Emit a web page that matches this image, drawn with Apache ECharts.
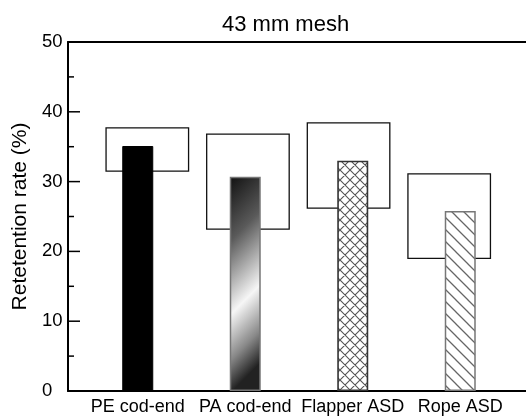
<!DOCTYPE html>
<html>
<head>
<meta charset="utf-8">
<script src="https://cdn.jsdelivr.net/npm/echarts@6/dist/echarts.min.js"></script>
<style>
html,body{margin:0;padding:0;background:#fff;}
#chart{width:526px;height:419px;}
</style>
</head>
<body>
<div id="chart"></div>
<script>
const categories = ['PE cod-end', 'PA cod-end', 'Flapper ASD', 'Rope ASD'];
const retention = [35.1, 30.7, 33.0, 25.8];
const rangeLow = [31.5, 23.2, 26.2, 19.0];
const rangeHigh = [37.7, 36.8, 38.4, 31.1];
const yMin = 0, yMax = 50, yStep = 10;
const yTickValues = [0, 5, 10, 15, 20, 25, 30, 35, 40, 45, 50];

const FONT = '"Liberation Sans", Arial, sans-serif';

function makePattern(kind) {
  const s = kind === 'cross' ? 10 : 12;
  const c = document.createElement('canvas');
  c.width = s; c.height = s;
  const g = c.getContext('2d');
  g.fillStyle = '#fff';
  g.fillRect(0, 0, s, s);
  g.strokeStyle = kind === 'cross' ? '#555' : '#666';
  g.lineWidth = kind === 'cross' ? 1.1 : 1.3;
  g.beginPath();
  g.moveTo(-1, -1); g.lineTo(s + 1, s + 1);
  g.moveTo(-1, s - 1); g.lineTo(1, s + 1);
  g.moveTo(s - 1, -1); g.lineTo(s + 1, 1);
  if (kind === 'cross') {
    g.moveTo(s + 1, -1); g.lineTo(-1, s + 1);
    g.moveTo(1, -1); g.lineTo(-1, 1);
    g.moveTo(s + 1, s - 1); g.lineTo(s - 1, s + 1);
  }
  g.stroke();
  return { image: c, repeat: 'repeat' };
}

const barStyles = [
  { color: '#000', borderColor: '#000', borderWidth: 1 },
  {
    color: {
      type: 'linear', x: 0, y: 0, x2: 3.5, y2: 0.5,
      colorStops: [
        { offset: 0, color: '#111' },
        { offset: 0.3, color: '#5a5a5a' },
        { offset: 0.64, color: '#f6f6f6' },
        { offset: 0.85, color: '#888' },
        { offset: 1, color: '#222' }
      ]
    },
    borderColor: '#777', borderWidth: 1.5
  },
  { color: makePattern('cross'), borderColor: '#333', borderWidth: 1.6 },
  { color: makePattern('diag'), borderColor: '#777', borderWidth: 1.5 }
];

const barData = retention.map((v, i) => ({ value: v, itemStyle: barStyles[i] }));
const boxData = categories.map((c, i) => [i, rangeLow[i], rangeHigh[i]]);
const tickData = yTickValues.map(v => [0, v]);

const chart = echarts.init(document.getElementById('chart'), null, { renderer: 'canvas' });

const option = {
  animation: false,
  backgroundColor: '#fff',
  title: {
    text: '43 mm mesh',
    left: 217,
    top: 9,
    textStyle: { fontFamily: FONT, fontSize: 22, fontWeight: 'normal', color: '#000' }
  },
  grid: [
    { left: 68, right: 0, top: 42, bottom: 28 },     // frame / y axis
    { left: 84, right: 12, top: 42, bottom: 28 },    // bars
    { left: 97, right: 26.5, top: 42, bottom: 28 }   // range boxes
  ],
  xAxis: [
    {
      gridIndex: 0, type: 'value', min: 0, max: 1, position: 'bottom',
      axisLine: { show: true, onZero: false, lineStyle: { color: '#000', width: 2 } },
      axisTick: { show: false }, axisLabel: { show: false }, splitLine: { show: false }
    },
    {
      gridIndex: 0, type: 'value', min: 0, max: 1, position: 'top',
      axisLine: { show: true, onZero: false, lineStyle: { color: '#000', width: 2 } },
      axisTick: { show: false }, axisLabel: { show: false }, splitLine: { show: false }
    },
    {
      gridIndex: 1, type: 'category', data: categories,
      axisLine: { show: false }, axisTick: { show: false },
      axisLabel: { interval: 0, color: '#000', fontFamily: FONT, fontSize: 18, margin: 7 }
    },
    {
      gridIndex: 2, type: 'category', data: categories, show: false
    }
  ],
  yAxis: [
    {
      gridIndex: 0, type: 'value', min: yMin, max: yMax, interval: yStep, position: 'left',
      name: 'Retetention rate (%)', nameLocation: 'middle', nameGap: 28,
      nameTextStyle: { color: '#000', fontFamily: FONT, fontSize: 21 },
      axisLine: { show: true, onZero: false, lineStyle: { color: '#000', width: 2 } },
      axisTick: { show: false },
      minorTick: { show: false },
      axisLabel: { color: '#000', fontFamily: FONT, fontSize: 18.5, align: 'left', margin: 26 },
      splitLine: { show: false }
    },
    { gridIndex: 1, type: 'value', min: yMin, max: yMax, show: false },
    { gridIndex: 2, type: 'value', min: yMin, max: yMax, show: false }
  ],
  series: [
    {
      type: 'custom', xAxisIndex: 3, yAxisIndex: 2, z: 1,
      data: boxData,
      encode: { x: 0, y: [1, 2] },
      renderItem: function (params, api) {
        const i = api.value(0);
        const top = api.coord([i, api.value(2)]);
        const bot = api.coord([i, api.value(1)]);
        const w = api.size([1, 0])[0] * 0.82;
        return {
          type: 'rect',
          shape: { x: top[0] - w / 2, y: top[1], width: w, height: bot[1] - top[1] },
          style: { fill: '#fff', stroke: '#111', lineWidth: 1.3 }
        };
      }
    },
    {
      type: 'bar', xAxisIndex: 2, yAxisIndex: 1, z: 3,
      barWidth: 31,
      data: barData
    },
    {
      // inward y-axis ticks (major every 10, minor every 5)
      type: 'custom', xAxisIndex: 0, yAxisIndex: 0, z: 5, clip: false, silent: true,
      data: tickData,
      encode: { x: 0, y: 1 },
      renderItem: function (params, api) {
        const v = api.value(1);
        const p = api.coord([api.value(0), v]);
        const len = (v % yStep === 0) ? 12 : 6;
        return {
          type: 'line',
          shape: { x1: p[0], y1: p[1], x2: p[0] + len, y2: p[1] },
          style: { stroke: '#000', lineWidth: 1.5 }
        };
      }
    }
  ]
};
chart.setOption(option);
</script>
</body>
</html>
